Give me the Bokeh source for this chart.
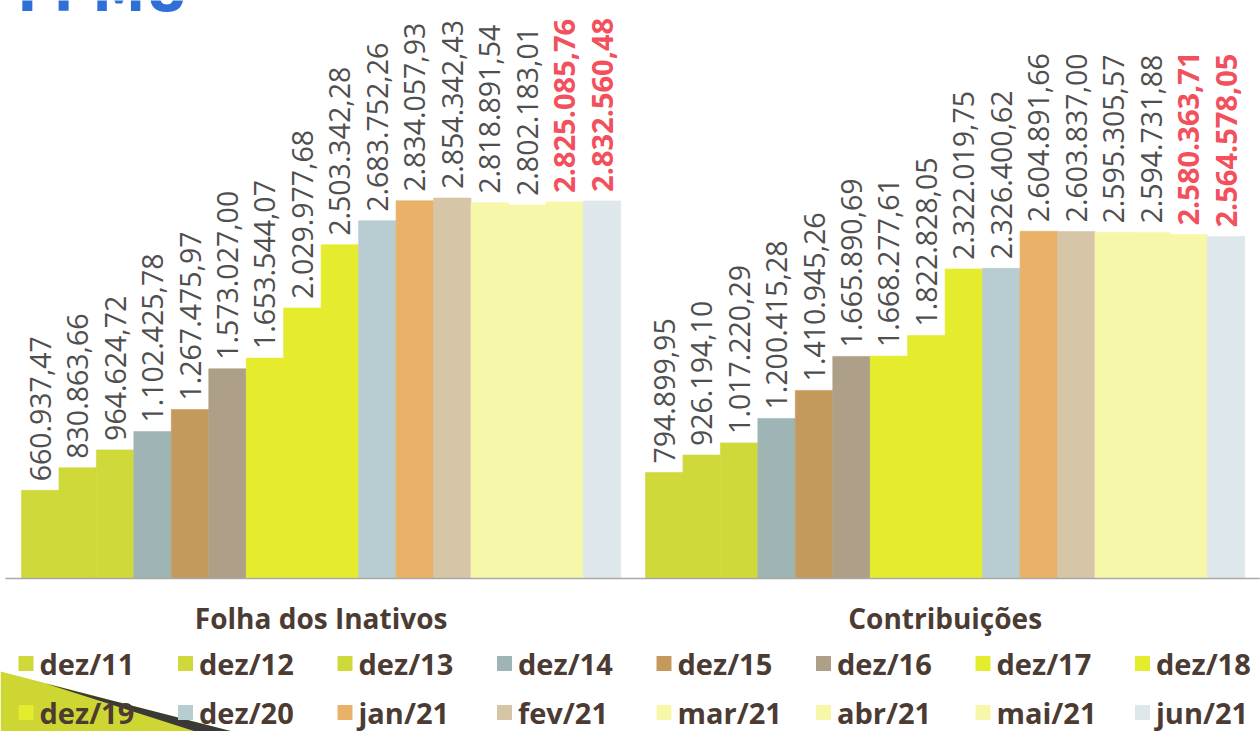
import math
from bokeh.plotting import figure
from bokeh.models import ColumnDataSource, Range1d
from bokeh.core.properties import value
from bokeh.embed import file_html
from bokeh.resources import INLINE

# Periods and the two series (R$)
periods = ["dez/11", "dez/12", "dez/13", "dez/14", "dez/15", "dez/16",
           "dez/17", "dez/18", "dez/19", "dez/20", "jan/21", "fev/21",
           "mar/21", "abr/21", "mai/21", "jun/21"]

folha_inativos = [660937.47, 830863.66, 964624.72, 1102425.78, 1267475.97,
                  1573027.00, 1653544.07, 2029977.68, 2503342.28, 2683752.26,
                  2834057.93, 2854342.43, 2818891.54, 2802183.01, 2825085.76,
                  2832560.48]

contribuicoes = [794899.95, 926194.10, 1017220.29, 1200415.28, 1410945.26,
                 1665890.69, 1668277.61, 1822828.05, 2322019.75, 2326400.62,
                 2604891.66, 2603837.00, 2595305.57, 2594731.88, 2580363.71,
                 2564578.05]

group_titles = ["Folha dos Inativos", "Contribuições"]

# Periods whose values are emphasised in red
highlighted = ["mai/21", "jun/21"]

period_colors = ["#cfd93a", "#cfd93a", "#cfd93a", "#9fb5b5", "#c49a5c",
                 "#ae9f89", "#e5ec2e", "#e5ec2e", "#e5ec2e", "#b7cdd1",
                 "#e9b268", "#d6c5a6", "#f6f7a8", "#f6f7a8", "#f6f7a8",
                 "#dee7ec"]

TEXT_DARK = "#4b3b33"
LABEL_GREY = "#4f4f4f"
LABEL_RED = "#f2505c"


def brl(v):
    s = f"{v:,.2f}"
    return s.replace(",", "#").replace(".", ",").replace("#", ".")


W, H = 1260, 731
group_gap = 0.66
n = len(periods)

p = figure(width=W, height=H, output_backend="svg", toolbar_location=None,
           x_range=Range1d(-0.56, 33.08), y_range=Range1d(-1.148e6, 4.336e6),
           min_border=0, outline_line_color=None, background_fill_color="white",
           border_fill_color="white")
p.axis.visible = False
p.grid.visible = False

# pixel-like helper ranges for the page furniture (legend, decoration)
p.extra_x_ranges = {"px": Range1d(0, W)}
p.extra_y_ranges = {"py": Range1d(H, 0)}

# decorative swoosh in the lower-left corner
p.patch(x=[0, 232, 0], y=[671, 731, 731], x_range_name="px", y_range_name="py",
        fill_color="#cdd633", line_color=None)
p.patch(x=[45, 232, 195], y=[683, 731, 731], x_range_name="px", y_range_name="py",
        fill_color="#3a3838", line_color=None)

# header (runs off the top of the page)
p.text(x=[17], y=[-8], text=["FPMU"], x_range_name="px", y_range_name="py",
       text_font=value("DejaVu Sans"), text_font_style="bold",
       text_font_size="53px", text_color="#2f70d6", text_baseline="alphabetic")

series = [folha_inativos, contribuicoes]
for g, vals in enumerate(series):
    offset = g * (n + group_gap)
    xs = [offset + i + 0.5 for i in range(n)]
    src = ColumnDataSource(dict(x=xs, top=vals, color=period_colors,
                                label=[brl(v) for v in vals], period=periods))
    p.vbar(x="x", top="top", bottom=0, width=1.0, source=src,
           fill_color="color", line_color="color", line_width=0.6)

    normal = [i for i in range(n) if periods[i] not in highlighted]
    bold = [i for i in range(n) if periods[i] in highlighted]
    for idx, style, color, size in ((normal, "normal", LABEL_GREY, "28.5px"),
                                    (bold, "bold", LABEL_RED, "29px")):
        lsrc = ColumnDataSource(dict(x=[xs[i] for i in idx], y=[vals[i] for i in idx],
                                     t=[brl(vals[i]) for i in idx]))
        p.text(x="x", y="y", text="t", source=lsrc, angle=math.pi / 2,
               text_align="left", text_baseline="middle", y_offset=-9,
               text_font=value("Open Sans"), text_font_style=style,
               text_font_size=size, text_color=color)

    # group caption under the bars
    p.text(x=[offset + n / 2], y=[-0.3e6], text=[group_titles[g]],
           text_align="center", text_baseline="middle",
           text_font=value("Open Sans"), text_font_style="bold",
           text_font_size="28px", text_color=TEXT_DARK)

# base line
p.segment(x0=[-0.43], x1=[2 * n + group_gap + 0.4], y0=[0], y1=[0],
          line_color="#a9a9a9", line_width=1.5)

# legend: two rows of eight
cols = 8
for k, per in enumerate(periods):
    r, c = divmod(k, cols)
    x0 = 18 + c * 159.5
    yc = 663 + r * 49
    p.rect(x=[x0 + 7.5], y=[yc], width=15, height=15, x_range_name="px",
           y_range_name="py", fill_color=period_colors[k], line_color=None)
    p.text(x=[x0 + 21], y=[yc], text=[per], x_range_name="px", y_range_name="py",
           text_align="left", text_baseline="middle",
           text_font=value("Open Sans"), text_font_style="bold",
           text_font_size="29px", text_color=TEXT_DARK)

open("out.html", "w").write(file_html(p, INLINE))
